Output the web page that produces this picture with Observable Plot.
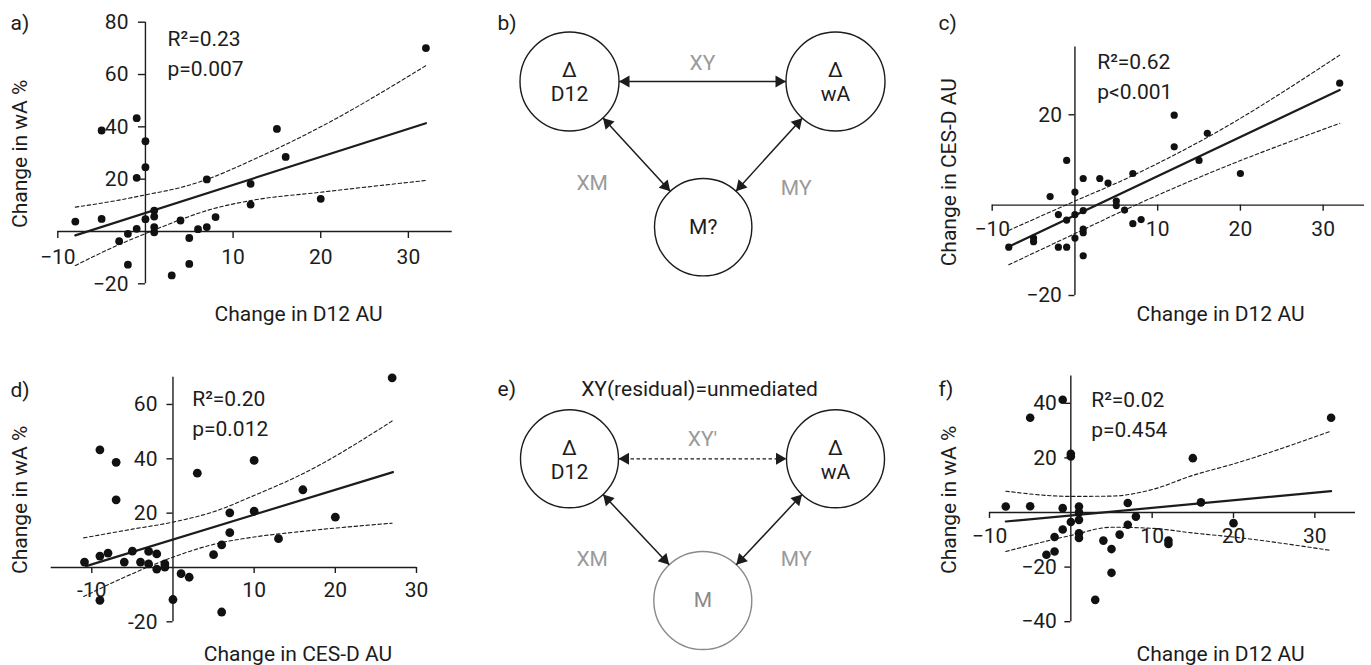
<!DOCTYPE html>
<html><head><meta charset="utf-8">
<script src="https://cdn.jsdelivr.net/npm/d3@7"></script>
<script src="https://cdn.jsdelivr.net/npm/@observablehq/plot@0.6"></script>
<style>
body{margin:0;background:#fff;}
#root{position:relative;width:1371px;height:665px;overflow:hidden;background:#fff;}
</style></head><body><div id="root"></div>
<script>
// ================= DATA =================
// a) Change in D12 AU (x) vs Change in wA % (y)
const aX = [32,-8,-5,-5,-1,0,0,-1,0,1,1,1,1,-1,-2,-3,-2,3,5,5,4,6,7,7,8,12,12,15,16,20];
const aY = [70.1,3.8,4.8,38.6,43.3,34.5,24.6,20.5,4.7,8.0,5.7,1.7,-0.3,1.0,-0.9,-3.7,-12.7,-16.8,-2.5,-12.4,4.2,0.9,1.7,19.9,5.5,18.2,10.3,39.2,28.5,12.5];
const aFitX = [-8,32], aFitY = [-1.5,41.4];
const aCiX = [-8,-3,0,4,7,12,20,32];
const aCiUp = [9.3,12.0,14.0,16.8,19.9,27.0,40.0,63.4];
const aCiLo = [-13.0,-5.0,-0.8,4.5,8.0,11.8,15.0,19.5];
const aXTicks = [-10,10,20,30], aXTickLabels = ["−10","10","20","30"];
const aYTicks = [-20,20,40,60,80], aYTickLabels = ["−20","20","40","60","80"];
const aStats = ["R²=0.23","p=0.007"];
const aLabels = ["a)","Change in D12 AU","Change in wA %"];

// c) Change in D12 AU (x) vs Change in CES-D AU (y)
const cX = [32,12,16,12,15,20,7,-1,1,3,4,0,-3,5,5,6,1,0,-2,-1,7,8,1,1,0,-5,-5,-8,-2,-1,1];
const cY = [27.0,19.9,15.9,12.9,9.9,7.0,7.0,9.9,5.9,5.9,4.9,2.9,1.9,0.9,-0.1,-1.1,-1.2,-2.1,-2.1,-3.3,-4.1,-3.2,-5.3,-6.1,-7.3,-7.3,-8.1,-9.3,-9.3,-9.3,-11.2];
const cFitX = [-8,32], cFitY = [-9.2,25.5];
const cCiX = [-8,0,6,16,32];
const cCiUp = [-5.6,0.9,5.7,15.0,33.2];
const cCiLo = [-13.2,-6.3,-1.1,6.9,18.1];
const cXTicks = [-10,10,20,30], cXTickLabels = ["−10","10","20","30"];
const cYTicks = [-20,20], cYTickLabels = ["−20","20"];
const cStats = ["R²=0.62","p<0.001"];
const cLabels = ["c)","Change in D12 AU","Change in CES-D AU"];

// d) Change in CES-D AU (x) vs Change in wA % (y)
const dX = [27,-9,-7,-7,3,10,16,20,10,7,7,13,6,5,-10.9,-9,-8,-5,-6,-4,-3,-3,-2,-2,-1,-1,1,2,-9,0,6];
const dY = [69.8,43.3,38.7,24.9,34.7,39.4,28.6,18.5,20.7,20.1,12.8,10.6,8.3,4.7,2.0,4.2,5.3,6.0,2.0,2.0,5.9,1.3,5.0,-0.6,1.3,0.1,-2.3,-3.6,-12.1,-11.8,-16.4];
const dFitX = [-10.7,27.1], dFitY = [0.5,35.1];
const dCiX = [-11,-5,0,5,10,16,27];
const dCiUp = [10.9,14.1,16.7,20.5,26.5,34.5,53.9];
const dCiLo = [-10.7,-2.3,3.8,8.5,11.2,13.3,16.3];
const dXTicks = [-10,10,20,30], dXTickLabels = ["-10","10","20","30"];
const dYTicks = [-20,20,40,60], dYTickLabels = ["-20","20","40","60"];
const dStats = ["R²=0.20","p=0.012"];
const dLabels = ["d)","Change in CES-D AU","Change in wA %"];

// f) Change in D12 AU (x) vs Change in wA % (y), residual
const fX = [32,-1,-5,0,0,15,-8,-5,-1,1,1,7,16,8,1,0,7,20,-1,1,1,6,-2,4,12,12,5,-2,-3,5,3];
const fY = [34.7,41.3,34.7,21.5,20.5,19.9,2.2,2.3,1.6,2.2,0.1,3.5,3.7,-1.5,-2.7,-3.5,-4.5,-3.9,-6.2,-7.6,-9.3,-8.1,-9.0,-10.3,-10.3,-11.5,-13.4,-14.3,-15.5,-22.1,-32.0];
const fFitX = [-8,32], fFitY = [-3.3,7.8];
const fCiX = [-8,0,5,10,15,20,32];
const fCiUp = [7.8,5.9,6.0,8.4,13.6,17.8,29.8];
const fCiLo = [-14.3,-8.4,-5.4,-5.8,-7.5,-9.0,-13.9];
const fXTicks = [-10,10,20,30], fXTickLabels = ["−10","10","20","30"];
const fYTicks = [-40,-20,20,40], fYTickLabels = ["−40","−20","20","40"];
const fStats = ["R²=0.02","p=0.454"];
const fLabels = ["f)","Change in D12 AU","Change in wA %"];

// b) / e) mediation diagrams
const bNodeIds = ["X","Y","M"];
const bNodeText = [["Δ","D12"],["Δ","wA"],["M?"]];
const bEdges = [["X","Y"],["X","M"],["M","Y"]];
const bEdgeLabels = ["XY","XM","MY"];
const bTitle = ["b)",""];
const eNodeIds = ["X","Y","M"];
const eNodeText = [["Δ","D12"],["Δ","wA"],["M"]];
const eEdges = [["X","Y"],["X","M"],["M","Y"]];
const eEdgeLabels = ["XY′","XM","MY"];
const eTitle = ["e)","XY(residual)=unmediated"];

// ================= LAYOUT =================
const FONT = "Roboto, 'Noto Sans', sans-serif";
const INK = "#1c1c1c", GREY = "#9a9a9a";
const root = document.getElementById("root");

function place(svg, left, top) {
  svg.style.position = "absolute";
  svg.style.left = left + "px";
  svg.style.top = top + "px";
  svg.style.maxWidth = "none";
  svg.style.background = "transparent";
  svg.style.overflow = "visible";
  root.appendChild(svg);
}

function scatter(P, D) {
  const {W,H,ml,mr,mt,mb,xd,yd} = P;
  const kx = (W-ml-mr)/(xd[1]-xd[0]), ky = (H-mt-mb)/(yd[1]-yd[0]);
  const tY = P.tick/ky, tX = P.tick/kx;
  const pts = D.x.map((x,i)=>({x, y: D.y[i]}));
  const fit = D.fitX.map((x,i)=>({x, y: D.fitY[i]}));
  const up = D.ciX.map((x,i)=>({x, y: D.ciUp[i]}));
  const lo = D.ciX.map((x,i)=>({x, y: D.ciLo[i]}));
  const at = (s, px, py, o={}) => Plot.text([s], {frameAnchor:"top-left", dx: px-ml, dy: py-mt, text: v=>v, textAnchor:"start", lineAnchor:"middle", fill: INK, ...o});
  const svg = Plot.plot({
    width: W, height: H, marginLeft: ml, marginRight: mr, marginTop: mt, marginBottom: mb,
    x: {domain: xd, axis: null}, y: {domain: yd, axis: null},
    style: {fontFamily: FONT, fontSize: "21px", color: INK, background: "transparent"},
    marks: [
      Plot.ruleY([0], {x1: P.xa[0], x2: P.xa[1], stroke: INK, strokeWidth: 1.4}),
      Plot.ruleX([0], {y1: P.ya[0], y2: P.ya[1], stroke: INK, strokeWidth: 1.4}),
      Plot.ruleX(D.xt, {x: v=>v, y1: 0, y2: -tY, stroke: INK, strokeWidth: 1.4}),
      Plot.ruleY(D.yt, {y: v=>v, x1: 0, x2: -tX, stroke: INK, strokeWidth: 1.4}),
      Plot.text(D.xt, {x: v=>v, y: 0, dy: P.xtdy, text: (v,i)=>D.xtl[i], lineAnchor:"middle", fill: INK}),
      Plot.text(D.yt, {x: 0, y: v=>v, dx: P.ytdx, text: (v,i)=>D.ytl[i], textAnchor:"end", lineAnchor:"middle", fill: INK}),
      Plot.line(up, {x:"x", y:"y", curve:"monotone-x", stroke: INK, strokeWidth: 1.1, strokeDasharray: "3.5,2.5"}),
      Plot.line(lo, {x:"x", y:"y", curve:"monotone-x", stroke: INK, strokeWidth: 1.1, strokeDasharray: "3.5,2.5"}),
      Plot.line(fit, {x:"x", y:"y", stroke: INK, strokeWidth: 2.2}),
      Plot.dot(pts, {x:"x", y:"y", r: P.r, fill: "#111", stroke: "none"}),
      at(D.labels[0], P.tag[0], P.tag[1]),
      at(D.stats[0], P.st[0], P.st[1]),
      at(D.stats[1], P.st[0], P.st[1] + 30),
      at(D.labels[1], P.xl[0], P.xl[1], {textAnchor:"middle"}),
      at(D.labels[2], P.yl[0], P.yl[1], {textAnchor:"middle", rotate: -90})
    ]
  });
  place(svg, P.left, P.top);
}

scatter({left:0, top:0, W:460, H:330, ml:57.3, mr:8.3, mt:21.7, mb:46.7, xd:[-10,35], yd:[-20,80],
  xa:[-10,35], ya:[-20,80], tick:7, xtdy:26, ytdx:-17, r:3.9,
  tag:[10,22.5], st:[167,39], xl:[298,313.3], yl:[20,153.3]},
  {x:aX, y:aY, fitX:aFitX, fitY:aFitY, ciX:aCiX, ciUp:aCiUp, ciLo:aCiLo, xt:aXTicks, xtl:aXTickLabels, yt:aYTicks, ytl:aYTickLabels, stats:aStats, labels:aLabels});

scatter({left:920, top:0, W:451, H:330, ml:71.7, mr:7, mt:46.5, mb:35, xd:[-10,35], yd:[-20,35],
  xa:[-10,35], ya:[-20,35], tick:6, xtdy:24.5, ytdx:-13, r:3.6,
  tag:[18,23], st:[176.7,61.7], xl:[300,313.3], yl:[28.3,171.7]},
  {x:cX, y:cY, fitX:cFitX, fitY:cFitY, ciX:cCiX, ciUp:cCiUp, ciLo:cCiLo, xt:cXTicks, xtl:cXTickLabels, yt:cYTicks, ytl:cYTickLabels, stats:cStats, labels:cLabels});

scatter({left:0, top:340, W:460, H:325, ml:50.7, mr:44, mt:36.8, mb:43.7, xd:[-15,30], yd:[-20,70],
  xa:[-15,30], ya:[-20,70], tick:6, xtdy:23, ytdx:-15.5, r:4.4,
  tag:[10,50], st:[191.7,58.3], xl:[297.5,313.3], yl:[20,159.3]},
  {x:dX, y:dY, fitX:dFitX, fitY:dFitY, ciX:dCiX, ciUp:dCiUp, ciLo:dCiLo, xt:dXTicks, xtl:dXTickLabels, yt:dYTicks, ytl:dYTickLabels, stats:dStats, labels:dLabels});

scatter({left:920, top:340, W:451, H:325, ml:69, mr:16, mt:35.5, mb:43.8, xd:[-10,35], yd:[-40,50],
  xa:[-10,35], ya:[-40,50], tick:6, xtdy:24, ytdx:-14, r:4.3,
  tag:[18,48.3], st:[170.7,60], xl:[300,313.3], yl:[28.3,159.3]},
  {x:fX, y:fY, fitX:fFitX, fitY:fFitY, ciX:fCiX, ciUp:fCiUp, ciLo:fCiLo, xt:fXTicks, xtl:fXTickLabels, yt:fYTicks, ytl:fYTickLabels, stats:fStats, labels:fLabels});

// ---------- diagrams ----------
const HEAD = 7;   // distance from triangle centroid to tip (r = 4.5)
const ang = (vx, vy) => Math.atan2(vx, -vy) * 180 / Math.PI;

function diagram(L, D) {
  const {W, H} = L;
  const nodes = D.ids.map((id,i) => ({id, x: L.pos[i][0], y: L.pos[i][1], r: L.rad[i], stroke: L.nodeStroke[i], color: L.nodeColor[i], lines: D.text[i]}));
  const byId = Object.fromEntries(nodes.map(n => [n.id, n]));
  const shafts = [], heads = [];
  D.edges.forEach(([a,b], i) => {
    const A = byId[a], B = byId[b];
    const dx = B.x-A.x, dy = B.y-A.y, dd = Math.hypot(dx,dy), ux = dx/dd, uy = dy/dd;
    const p1 = [A.x+ux*A.r, A.y+uy*A.r], p2 = [B.x-ux*B.r, B.y-uy*B.r];
    shafts.push({x1:p1[0], y1:p1[1], x2:p2[0], y2:p2[1], dashed: L.dashed[i]});
    heads.push({x: p1[0]+ux*HEAD, y: p1[1]+uy*HEAD, rot: ang(-ux,-uy)});
    heads.push({x: p2[0]-ux*HEAD, y: p2[1]-uy*HEAD, rot: ang(ux,uy)});
  });
  const nodeText = [];
  nodes.forEach(n => {
    const offs = n.lines.length === 2 ? [-11, 13] : [0];
    n.lines.forEach((t,j) => nodeText.push({x: n.x, y: n.y + offs[j], t, color: n.color}));
  });
  const edgeText = D.edgeLabels.map((t,i) => ({x: L.elab[i][0], y: L.elab[i][1], t}));
  const svg = Plot.plot({
    width: W, height: H, margin: 0,
    x: {domain:[0,W], range:[0,W], axis:null},
    y: {domain:[0,H], range:[0,H], axis:null},
    r: {type: "identity"},
    style: {fontFamily: FONT, fontSize: "21px", color: INK, background: "transparent"},
    marks: [
      Plot.dot(nodes, {x:"x", y:"y", r:"r", fill:"white", stroke: d=>d.stroke, strokeWidth: 1.4}),
      Plot.link(shafts.filter(s=>!s.dashed), {x1:"x1", y1:"y1", x2:"x2", y2:"y2", stroke: INK, strokeWidth: 1.5}),
      Plot.link(shafts.filter(s=>s.dashed), {x1:"x1", y1:"y1", x2:"x2", y2:"y2", stroke: INK, strokeWidth: 1.3, strokeDasharray:"3.5,2.5"}),
      Plot.dot(heads, {x:"x", y:"y", rotate:"rot", symbol:"triangle", r: 4.5, fill: INK, stroke: "none"}),
      Plot.text(nodeText, {x:"x", y:"y", text:"t", fill: d=>d.color, lineAnchor:"middle"}),
      Plot.text(edgeText, {x:"x", y:"y", text:"t", fill: GREY, lineAnchor:"middle"}),
      Plot.text([D.title[0]], {x: L.tag[0], y: L.tag[1], text: v=>v, textAnchor:"start", fill: INK, lineAnchor:"middle"}),
      Plot.text([D.title[1]], {x: L.ttl[0], y: L.ttl[1], text: v=>v, fill: INK, lineAnchor:"middle"})
    ]
  });
  place(svg, L.left, L.top);
}

diagram({left:460, top:0, W:460, H:330,
  pos:[[109,81],[375,81],[242.7,226.7]], rad:[49.5,49.5,48.7],
  nodeStroke:[INK,INK,INK], nodeColor:[INK,INK,INK], dashed:[false,false,false],
  elab:[[242,63],[131.7,183],[335.7,188]], tag:[37,23], ttl:[239,23]},
  {ids:bNodeIds, text:bNodeText, edges:bEdges, edgeLabels:bEdgeLabels, title:bTitle});

diagram({left:460, top:340, W:460, H:325,
  pos:[[109,118.3],[375,118.3],[242.3,260]], rad:[49,49,49],
  nodeStroke:[INK,INK,"#8a8a8a"], nodeColor:[INK,INK,"#8a8a8a"], dashed:[true,false,false],
  elab:[[242,98.3],[131.7,218.3],[335.7,218.3]], tag:[37,48.3], ttl:[239,48.3]},
  {ids:eNodeIds, text:eNodeText, edges:eEdges, edgeLabels:eEdgeLabels, title:eTitle});
</script>
</body></html>
